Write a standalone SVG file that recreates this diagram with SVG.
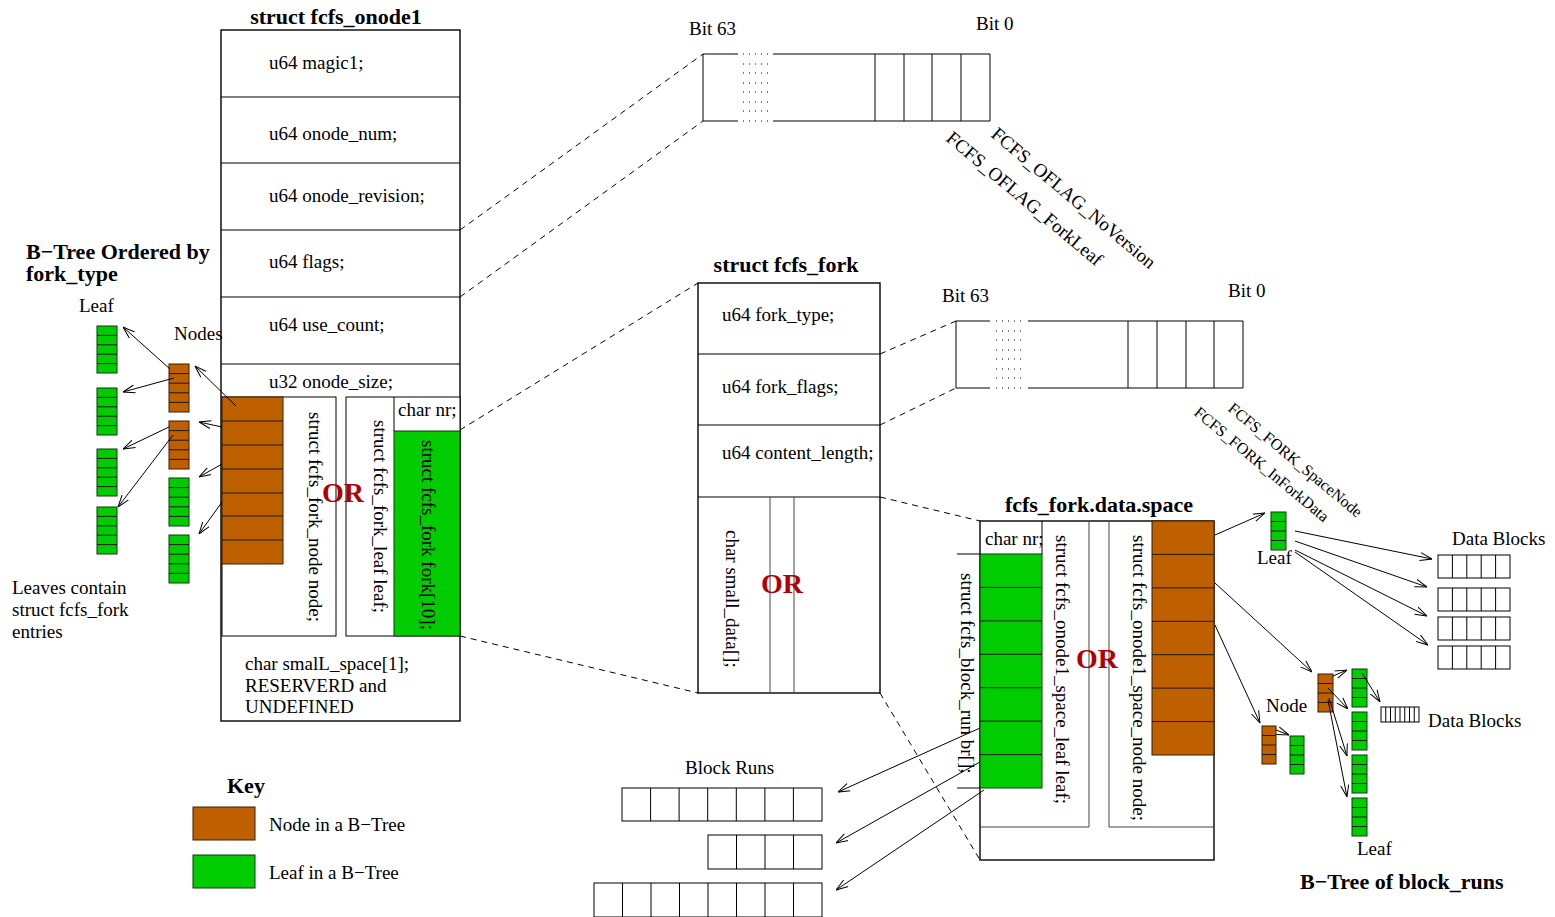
<svg xmlns="http://www.w3.org/2000/svg" width="1555" height="917" viewBox="0 0 1555 917">
<style>
text{font-family:"Liberation Serif","Times New Roman",serif;font-size:19px;fill:#000}
.b{font-weight:bold;font-size:22px}
.m{text-anchor:middle}
.or{fill:#b00000;font-weight:bold;font-size:28px;text-anchor:middle}
.s16{font-size:16px}
.ln{stroke:#000;stroke-width:1;fill:none}
.gl{stroke:#444;stroke-width:1;fill:none}
.box{fill:#fff;stroke:#000;stroke-width:1.4}
.node{fill:#bf6000;stroke:#3a1c00;stroke-width:1}
.leaf{fill:#00cc00;stroke:#0a3a0a;stroke-width:1}
.sep{stroke:#1a1a1a;stroke-width:1;fill:none}
.dash{stroke:#000;stroke-width:1;stroke-dasharray:6 5;fill:none}
.arr{stroke:#000;stroke-width:1;fill:none;marker-end:url(#ah)}
.dot{stroke:#000;stroke-width:1;stroke-dasharray:1 5;fill:none}
.cell{fill:#fff;stroke:#000;stroke-width:1}
</style>
<defs>
<marker id="ah" viewBox="0 0 12 10" refX="12" refY="5" markerWidth="12" markerHeight="10" orient="auto" markerUnits="userSpaceOnUse">
<path d="M0,1 L12,5 L0,9" fill="none" stroke="#000" stroke-width="1"/>
</marker>
</defs>
<rect width="1555" height="917" fill="#fff"/>

<g id="onode">
<text class="b m" x="336" y="24">struct fcfs_onode1</text>
<rect class="box" x="221" y="30" width="239" height="691"/>
<path class="ln" d="M221,97H460M221,163H460M221,230H460M221,297H460M221,364H460"/>
<text x="269" y="69">u64 magic1;</text>
<text x="269" y="140">u64 onode_num;</text>
<text x="269" y="202">u64 onode_revision;</text>
<text x="269" y="268">u64 flags;</text>
<text x="269" y="331">u64 use_count;</text>
<text x="269" y="388">u32 onode_size;</text>
<rect class="cell" x="222" y="397" width="114" height="239"/>
<rect class="cell" x="346" y="397" width="114" height="239"/>
<rect class="node" x="222" y="397" width="61" height="167"/>
<path class="sep" d="M222,421H283M222,445H283M222,469H283M222,493H283M222,516H283M222,540H283"/>
<rect class="leaf" x="394" y="431" width="66" height="205"/>
<path class="ln" d="M394,397V431"/>
<text x="398" y="416">char nr;</text>
<text transform="translate(309,412) rotate(90)">struct fcfs_fork_node node;</text>
<text transform="translate(374,420) rotate(90)">struct fcfs_fork_leaf leaf;</text>
<text transform="translate(422,440) rotate(90)">struct fcfs_fork fork[10];</text>
<text class="or" x="343" y="502">OR</text>
<text x="245" y="670">char smalL_space[1];</text>
<text x="245" y="692">RESERVERD and</text>
<text x="245" y="713">UNDEFINED</text>
</g>

<g id="bitfield-onode">
<text x="689" y="35">Bit 63</text>
<text x="976" y="30">Bit 0</text>
<path class="ln" d="M703,54V121M703,54H738M773,54H990M703,121H738M773,121H990M990,54V121M875,54V121M904,54V121M932,54V121M961,54V121"/>
<path class="dot" d="M743,54h25M743,64h25M743,73h25M743,83h25M743,92h25M743,102h25M743,111h25M743,121h25"/>
<text transform="translate(990,136) rotate(40)">FCFS_OFLAG_NoVersion</text>
<text transform="translate(945,140) rotate(40)">FCFS_OFLAG_ForkLeaf</text>
</g>

<g id="fork">
<text class="b m" x="786" y="272">struct fcfs_fork</text>
<rect class="box" x="698" y="283" width="182" height="410"/>
<path class="ln" d="M698,354H880M698,425H880M698,497H880"/>
<path class="gl" d="M770,497V693M794,497V693"/>
<text x="722" y="321">u64 fork_type;</text>
<text x="722" y="393">u64 fork_flags;</text>
<text x="722" y="459">u64 content_length;</text>
<text transform="translate(726,530) rotate(90)">char small_data[];</text>
<text class="or" x="782" y="593">OR</text>
</g>

<g id="bitfield-fork">
<text x="942" y="302">Bit 63</text>
<text x="1228" y="297">Bit 0</text>
<path class="ln" d="M956,321V388M956,321H990M1028,321H1243M956,388H990M1028,388H1243M1243,321V388M1128,321V388M1157,321V388M1186,321V388M1214,321V388"/>
<path class="dot" d="M996,321h25M996,331h25M996,340h25M996,350h25M996,359h25M996,369h25M996,378h25M996,388h25"/>
<text class="s16" transform="translate(1227,410) rotate(39.8)">FCFS_FORK_SpaceNode</text>
<text class="s16" transform="translate(1193,414) rotate(39.8)">FCFS_FORK_InForkData</text>
</g>

<g id="dataspace">
<text class="b m" x="1099" y="512">fcfs_fork.data.space</text>
<rect class="box" x="980" y="521" width="234" height="339"/>
<path class="gl" d="M1089,521V827H980M1109,521V827H1214"/>
<rect class="leaf" x="980" y="554" width="62" height="234"/>
<path class="sep" d="M980,587.4H1042M980,620.9H1042M980,654.3H1042M980,687.7H1042M980,721.1H1042M980,754.6H1042"/>
<path class="ln" d="M1042,521V554M957,554H980M957,788H980"/>
<text x="985" y="545">char nr;</text>
<rect class="node" x="1152" y="521" width="62" height="234"/>
<path class="sep" d="M1152,554.4H1214M1152,587.9H1214M1152,621.3H1214M1152,654.7H1214M1152,688.1H1214M1152,721.6H1214"/>
<text transform="translate(961,573) rotate(90)">struct fcfs_block_run br[];</text>
<text transform="translate(1056,535) rotate(90)">struct fcfs_onode1_space_leaf leaf;</text>
<text transform="translate(1133,535) rotate(90)">struct fcfs_onode1_space_node node;</text>
<text class="or" x="1097" y="668">OR</text>
</g>

<g id="btree-fork-type">
<text class="b" x="26" y="259">B−Tree Ordered by</text>
<text class="b" x="26" y="281">fork_type</text>
<text x="79" y="312">Leaf</text>
<text x="174" y="340">Nodes</text>
<rect class="leaf" x="97" y="326" width="20" height="47"/>
<path class="sep" d="M97,335.4h20M97,344.8h20M97,354.2h20M97,363.6h20"/>
<rect class="leaf" x="97" y="388" width="20" height="47"/>
<path class="sep" d="M97,397.4h20M97,406.8h20M97,416.2h20M97,425.6h20"/>
<rect class="leaf" x="97" y="449" width="20" height="47"/>
<path class="sep" d="M97,458.4h20M97,467.8h20M97,477.2h20M97,486.6h20"/>
<rect class="leaf" x="97" y="507" width="20" height="47"/>
<path class="sep" d="M97,516.4h20M97,525.8h20M97,535.2h20M97,544.6h20"/>
<rect class="node" x="169" y="364" width="20" height="48"/>
<path class="sep" d="M169,373.6h20M169,383.2h20M169,392.8h20M169,402.4h20"/>
<rect class="node" x="169" y="421" width="20" height="48"/>
<path class="sep" d="M169,430.6h20M169,440.2h20M169,449.8h20M169,459.4h20"/>
<rect class="leaf" x="169" y="478" width="20" height="48"/>
<path class="sep" d="M169,487.6h20M169,497.2h20M169,506.8h20M169,516.4h20"/>
<rect class="leaf" x="169" y="535" width="20" height="48"/>
<path class="sep" d="M169,544.6h20M169,554.2h20M169,563.8h20M169,573.4h20"/>
<text x="12" y="594">Leaves contain</text>
<text x="12" y="616">struct fcfs_fork</text>
<text x="12" y="638">entries</text>
</g>

<g id="btree-block-runs">
<rect class="leaf" x="1271" y="512" width="15" height="38"/>
<path class="sep" d="M1271,521.5h15M1271,531h15M1271,540.5h15"/>
<text x="1257" y="564">Leaf</text>
<rect class="node" x="1318" y="674" width="15" height="38"/>
<path class="sep" d="M1318,683.5h15M1318,693h15M1318,702.5h15"/>
<rect class="leaf" x="1352" y="669" width="15" height="38"/>
<path class="sep" d="M1352,678.5h15M1352,688h15M1352,697.5h15"/>
<rect class="leaf" x="1352" y="712" width="15" height="38"/>
<path class="sep" d="M1352,721.5h15M1352,731h15M1352,740.5h15"/>
<rect class="leaf" x="1352" y="755" width="15" height="38"/>
<path class="sep" d="M1352,764.5h15M1352,774h15M1352,783.5h15"/>
<rect class="leaf" x="1352" y="798" width="15" height="38"/>
<path class="sep" d="M1352,807.5h15M1352,817h15M1352,826.5h15"/>
<rect class="node" x="1262" y="726" width="14" height="38"/>
<path class="sep" d="M1262,735.5h14M1262,745h14M1262,754.5h14"/>
<rect class="leaf" x="1290" y="736" width="14" height="38"/>
<path class="sep" d="M1290,745.5h14M1290,755h14M1290,764.5h14"/>
<rect class="cell" x="1381" y="707" width="38" height="15"/>
<path class="ln" d="M1385.75,707v15M1390.5,707v15M1395.25,707v15M1400,707v15M1404.75,707v15M1409.5,707v15M1414.25,707v15"/>
<text x="1428" y="727">Data Blocks</text>
<text x="1266" y="712">Node</text>
<text x="1357" y="855">Leaf</text>
<text x="1452" y="545">Data Blocks</text>
<rect class="cell" x="1438" y="555" width="72" height="23"/>
<rect class="cell" x="1438" y="588" width="72" height="23"/>
<rect class="cell" x="1438" y="617" width="72" height="23"/>
<rect class="cell" x="1438" y="646" width="72" height="23"/>
<path class="ln" d="M1452.4,555v23M1466.8,555v23M1481.2,555v23M1495.6,555v23M1452.4,588v23M1466.8,588v23M1481.2,588v23M1495.6,588v23M1452.4,617v23M1466.8,617v23M1481.2,617v23M1495.6,617v23M1452.4,646v23M1466.8,646v23M1481.2,646v23M1495.6,646v23"/>
<text class="b" x="1300" y="889">B−Tree of block_runs</text>
</g>

<g id="blockruns">
<text x="685" y="774">Block Runs</text>
<rect class="cell" x="622" y="788" width="200" height="33"/>
<path class="ln" d="M650.6,788v33M679.1,788v33M707.7,788v33M736.3,788v33M764.9,788v33M793.4,788v33"/>
<rect class="cell" x="708" y="835" width="114" height="34"/>
<path class="ln" d="M736.5,835v34M765,835v34M793.5,835v34"/>
<rect class="cell" x="594" y="883" width="228" height="34"/>
<path class="ln" d="M622.5,883v34M651,883v34M679.5,883v34M708,883v34M736.5,883v34M765,883v34M793.5,883v34"/>
</g>

<g id="key">
<text class="b" x="227" y="793">Key</text>
<rect class="node" x="193" y="807" width="62" height="33"/>
<text x="269" y="831">Node in a B−Tree</text>
<rect class="leaf" x="193" y="855" width="62" height="33"/>
<text x="269" y="879">Leaf in a B−Tree</text>
</g>

<g id="connectors">
<path class="dash" d="M460,230L703,54M460,297L703,121M460,430L698,283M460,636L698,693M880,354L956,321M880,425L956,388M880,497L980,521M880,693L980,860"/>
<path class="arr" d="M236,406L195,366"/>
<path class="arr" d="M222,427L199,422"/>
<path class="arr" d="M222,464L199,477"/>
<path class="arr" d="M222,502L199,534"/>
<path class="arr" d="M170,369L123,327"/>
<path class="arr" d="M174,378L123,392"/>
<path class="arr" d="M169,427L123,449"/>
<path class="arr" d="M173,435L118,507"/>
<path class="arr" d="M980,728L838,792"/>
<path class="arr" d="M980,762L836,843"/>
<path class="arr" d="M984,790L836,890"/>
<path class="arr" d="M1215,535L1265,513"/>
<path class="arr" d="M1295,531L1432,559"/>
<path class="arr" d="M1295,541L1427,587"/>
<path class="arr" d="M1295,550L1427,616"/>
<path class="arr" d="M1295,552L1428,645"/>
<path class="arr" d="M1215,583L1312,672"/>
<path class="arr" d="M1215,625L1260,723"/>
<path class="arr" d="M1333,676L1347,670"/>
<path class="arr" d="M1328,688L1348,709"/>
<path class="arr" d="M1329,698L1347,756"/>
<path class="arr" d="M1328,700L1347,797"/>
<path class="arr" d="M1362,673L1380,702"/>
<path class="arr" d="M1276,730L1289,735"/>
</g>
</svg>
